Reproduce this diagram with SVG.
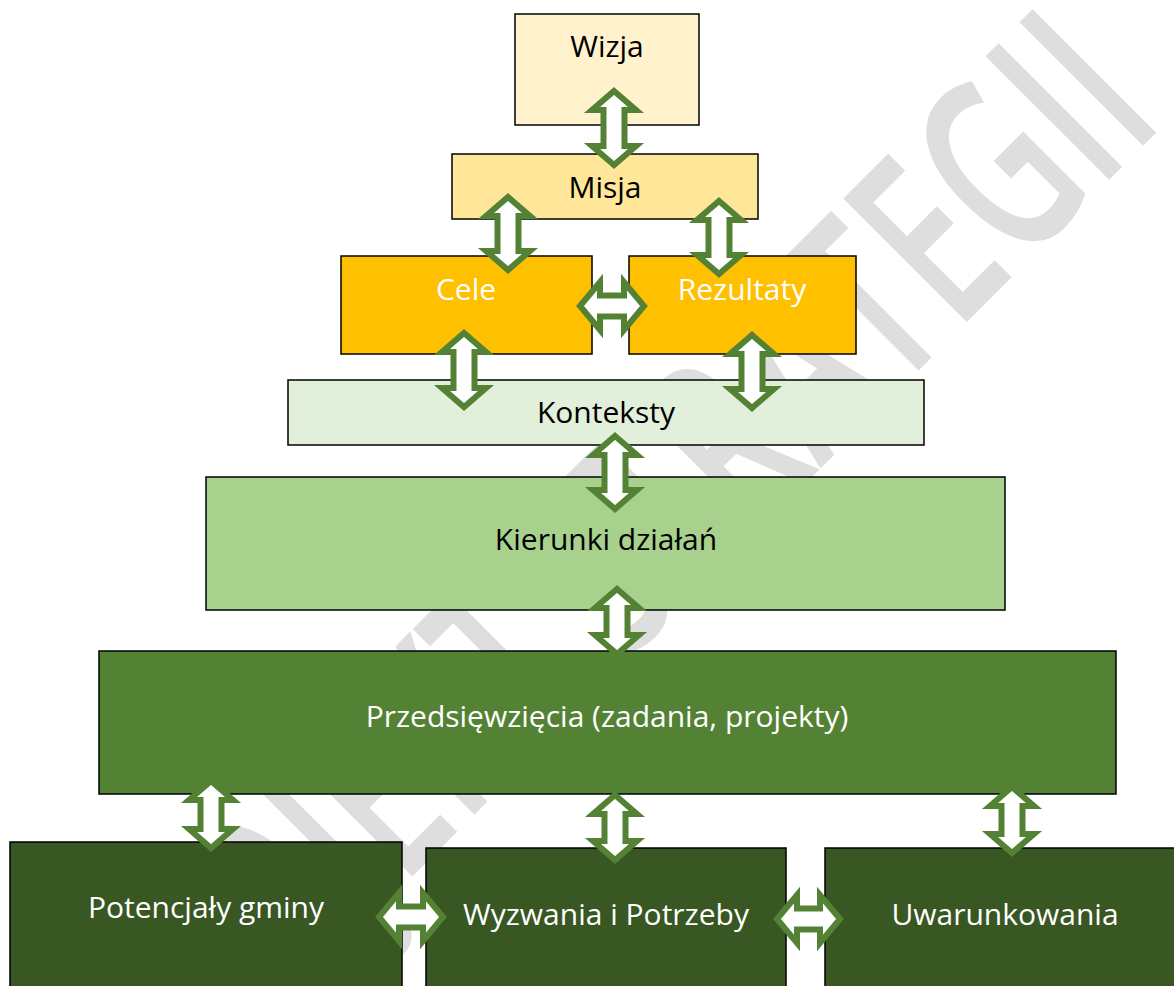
<svg xmlns="http://www.w3.org/2000/svg" width="1174" height="986" viewBox="0 0 1174 986">
<style>
.box{stroke:#000;stroke-width:1.5}
.lbl{font-family:"Open Sans","Liberation Sans",sans-serif;font-size:30px;text-anchor:middle}
.dark{fill:#000}
.light{fill:#fff}
.arr{fill:#fff;stroke:#548235;stroke-width:6;stroke-linejoin:miter;stroke-miterlimit:10}
.wm{font-family:"Open Sans","Liberation Sans",sans-serif;font-size:245px;font-weight:600;fill:#dedede;text-anchor:end}
</style>
<rect x="0" y="0" width="1174" height="986" fill="#fff"/>
<g id="watermark">
<text class="wm" transform="translate(1166.5,122.5) rotate(-45) scale(0.64,1)">PROJEKT STRATEGII</text>
</g>
<g id="wizja"><rect class="box" x="515" y="14" width="184" height="111" fill="#FFF2CC"/><text class="lbl dark" x="607" y="57">Wizja</text></g>
<g id="misja"><rect class="box" x="452" y="154" width="306" height="65" fill="#FFE699"/><text class="lbl dark" x="605" y="198">Misja</text></g>
<g id="cele"><rect class="box" x="341" y="256" width="251" height="98" fill="#FFC000"/><text class="lbl light" x="466" y="300">Cele</text></g>
<g id="rezultaty"><rect class="box" x="629" y="256" width="227" height="98" fill="#FFC000"/><text class="lbl light" x="742" y="300">Rezultaty</text></g>
<g id="konteksty"><rect class="box" x="288" y="380" width="636" height="65" fill="#E2EFDA"/><text class="lbl dark" x="606" y="423">Konteksty</text></g>
<g id="kierunki"><rect class="box" x="206" y="477" width="799" height="133" fill="#A9D18E"/><text class="lbl dark" x="606" y="550">Kierunki działań</text></g>
<g id="przedsiewziecia"><rect class="box" x="99" y="651" width="1017" height="143" fill="#548235"/><text class="lbl light" x="607" y="727">Przedsięwzięcia (zadania, projekty)</text></g>
<g id="potencjaly"><rect class="box" x="10" y="842" width="392" height="150" fill="#385723"/><text class="lbl light" x="206" y="918">Potencjały gminy</text></g>
<g id="wyzwania"><rect class="box" x="426" y="848" width="360" height="144" fill="#385723"/><text class="lbl light" x="606" y="925">Wyzwania i Potrzeby</text></g>
<g id="uwarunkowania"><rect class="box" x="825" y="848" width="360" height="144" fill="#385723"/><text class="lbl light" x="1005" y="925">Uwarunkowania</text></g>
<g id="connectors">
<path class="arr" d="M614,91 L636,110 L624.5,110 L624.5,146 L636,146 L614,165 L592,146 L603.5,146 L603.5,110 L592,110 Z"/>
<path class="arr" d="M508,197 L530,216 L518.5,216 L518.5,251 L530,251 L508,270 L486,251 L497.5,251 L497.5,216 L486,216 Z"/>
<path class="arr" d="M719,201 L741,220 L729.5,220 L729.5,255 L741,255 L719,274 L697,255 L708.5,255 L708.5,220 L697,220 Z"/>
<path class="arr" d="M464,333 L486,352 L474.5,352 L474.5,388 L486,388 L464,407 L442,388 L453.5,388 L453.5,352 L442,352 Z"/>
<path class="arr" d="M752,335 L774,354 L762.5,354 L762.5,389 L774,389 L752,408 L730,389 L741.5,389 L741.5,354 L730,354 Z"/>
<path class="arr" d="M615,436 L637,455 L625.5,455 L625.5,490 L637,490 L615,509 L593,490 L604.5,490 L604.5,455 L593,455 Z"/>
<path class="arr" d="M617,589 L639,608 L627.5,608 L627.5,635 L639,635 L617,654 L595,635 L606.5,635 L606.5,608 L595,608 Z"/>
<path class="arr" d="M211,781 L233,800 L221.5,800 L221.5,829 L233,829 L211,848 L189,829 L200.5,829 L200.5,800 L189,800 Z"/>
<path class="arr" d="M615,795 L637,814 L625.5,814 L625.5,841 L637,841 L615,860 L593,841 L604.5,841 L604.5,814 L593,814 Z"/>
<path class="arr" d="M1012,787 L1034,806 L1022.5,806 L1022.5,834 L1034,834 L1012,853 L990,834 L1001.5,834 L1001.5,806 L990,806 Z"/>
<path class="arr" d="M580,306 L600,282 L600,295.5 L624,295.5 L624,282 L644,306 L624,330 L624,316.5 L600,316.5 L600,330 Z"/>
<path class="arr" d="M379,917 L399,893 L399,906.5 L423,906.5 L423,893 L443,917 L423,941 L423,927.5 L399,927.5 L399,941 Z"/>
<path class="arr" d="M777,919 L797,895 L797,908.5 L820,908.5 L820,895 L840,919 L820,943 L820,929.5 L797,929.5 L797,943 Z"/>
</g>
</svg>
